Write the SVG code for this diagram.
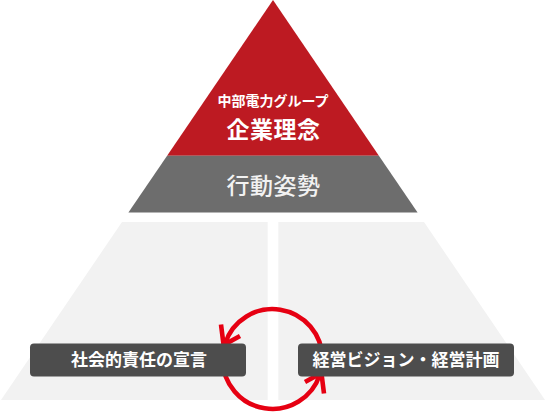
<svg xmlns="http://www.w3.org/2000/svg" width="546" height="413" viewBox="0 0 546 413">
<style>
.jp{font-family:"Noto Sans CJK JP","Noto Sans CJK SC",sans-serif;text-anchor:middle}
.panel{fill:#f2f2f2}
.box{fill:#4d4d4d}
.boxt{font-size:17px;font-weight:700;fill:#ffffff}
.arc{fill:none;stroke:#e60012;stroke-width:4.6}
.head{fill:none;stroke:#e60012;stroke-width:4.6;stroke-linejoin:miter}
</style>
<rect width="546" height="413" fill="#ffffff"/>
<g id="philosophy">
<polygon points="273,0 378.9,155.7 167.1,155.7" fill="#bd1a22"/>
<text class="jp" x="273" y="105.5" font-size="14" font-weight="700" fill="#ffffff">中部電力グループ</text>
<text class="jp" x="273.5" y="137.5" font-size="23" font-weight="700" fill="#ffffff" letter-spacing="0.5">企業理念</text>
</g>
<g id="conduct">
<polygon points="167.1,155.7 378.9,155.7 417.6,212.6 128.4,212.6" fill="#6d6d6d"/>
<text class="jp" x="273.5" y="193.5" font-size="23" font-weight="500" fill="#f2f2f2" letter-spacing="0.5">行動姿勢</text>
</g>
<g id="panel-left">
<polygon class="panel" points="122,222 267.7,222 267.7,400 1,400"/>
</g>
<g id="panel-right">
<polygon class="panel" points="278.3,222 424,222 545,400 278.3,400"/>
</g>
<g id="connectors">
<path class="arc" d="M322.3,359 A49.8,49.8 0 0 0 225.1,343.6"/>
<polyline class="head" points="221,324.5 223.6,345 240,336"/>
<path class="arc" d="M222.7,359 A49.8,49.8 0 0 0 319.9,374.4"/>
<polyline class="head" points="324,393.5 321.4,373 305,382"/>
</g>
<g id="node-csr">
<rect class="box" x="30" y="343.5" width="216" height="33" rx="4"/>
<text class="jp boxt" x="139" y="366">社会的責任の宣言</text>
</g>
<g id="node-vision">
<rect class="box" x="298" y="343.5" width="216" height="33" rx="4"/>
<text class="jp boxt" x="406" y="366">経営ビジョン・経営計画</text>
</g>
</svg>
